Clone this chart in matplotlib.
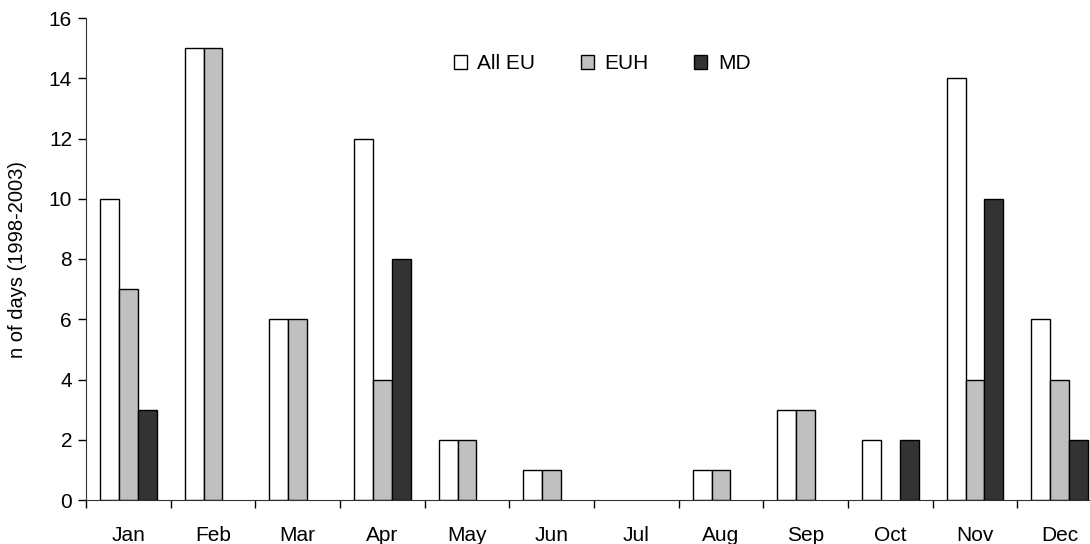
import numpy as np
import matplotlib.pyplot as plt
from matplotlib.ticker import FixedLocator, NullFormatter

plt.rcParams['font.family'] = ['Liberation Sans', 'DejaVu Sans']

# Data
months = ['Jan', 'Feb', 'Mar', 'Apr', 'May', 'Jun', 'Jul', 'Aug', 'Sep', 'Oct', 'Nov', 'Dec']
all_eu = [10, 15, 6, 12, 2, 1, 0, 1, 3, 2, 14, 6]
euh = [7, 15, 6, 4, 2, 1, 0, 1, 3, 0, 4, 4]
md = [3, 0, 0, 8, 0, 0, 0, 0, 0, 2, 10, 2]

fig = plt.figure(figsize=(10.9, 5.44), dpi=100)
ax = fig.add_axes([86 / 1090, 44 / 544, 1016 / 1090, 482 / 544])

x = np.arange(len(months))
w = 0.222


def lw(vals):
    # no outline for empty bars
    return [1.0 if v > 0 else 0.0 for v in vals]


ax.bar(x - w, all_eu, w, color='white', edgecolor='black', linewidth=lw(all_eu), label='All EU')
ax.bar(x, euh, w, color='#c0c0c0', edgecolor='black', linewidth=lw(euh), label='EUH')
ax.bar(x + w, md, w, color='#333333', edgecolor='black', linewidth=lw(md), label='MD')

ax.set_xlim(-0.5, 11.5)
ax.set_ylim(0, 16)
ax.set_yticks(range(0, 17, 2))

# tick marks between months, labels at centers
ax.xaxis.set_major_locator(FixedLocator(np.arange(-0.5, 12, 1)))
ax.xaxis.set_major_formatter(NullFormatter())
ax.xaxis.set_minor_locator(FixedLocator(x))
ax.set_xticklabels(months, minor=True)
ax.tick_params(axis='x', which='major', length=6, width=1)
ax.tick_params(axis='x', which='minor', length=0, pad=19, labelsize=15)
ax.tick_params(axis='y', length=6, width=1, labelsize=15, pad=4)

ax.spines['top'].set_visible(False)
ax.spines['right'].set_visible(False)
ax.spines['left'].set_color('#333333')
ax.spines['bottom'].set_color('#333333')

ax.set_ylabel('n of days (1998-2003)', fontsize=14.5, labelpad=16)

leg = ax.legend(loc='center', bbox_to_anchor=(0.508, 0.905), ncol=3, frameon=False,
                fontsize=15, handlelength=0.62, handleheight=0.62, handletextpad=0.5,
                columnspacing=2.2)
for h in leg.legend_handles:
    h.set_linewidth(1.0)

plt.savefig('out.png', dpi=100)
